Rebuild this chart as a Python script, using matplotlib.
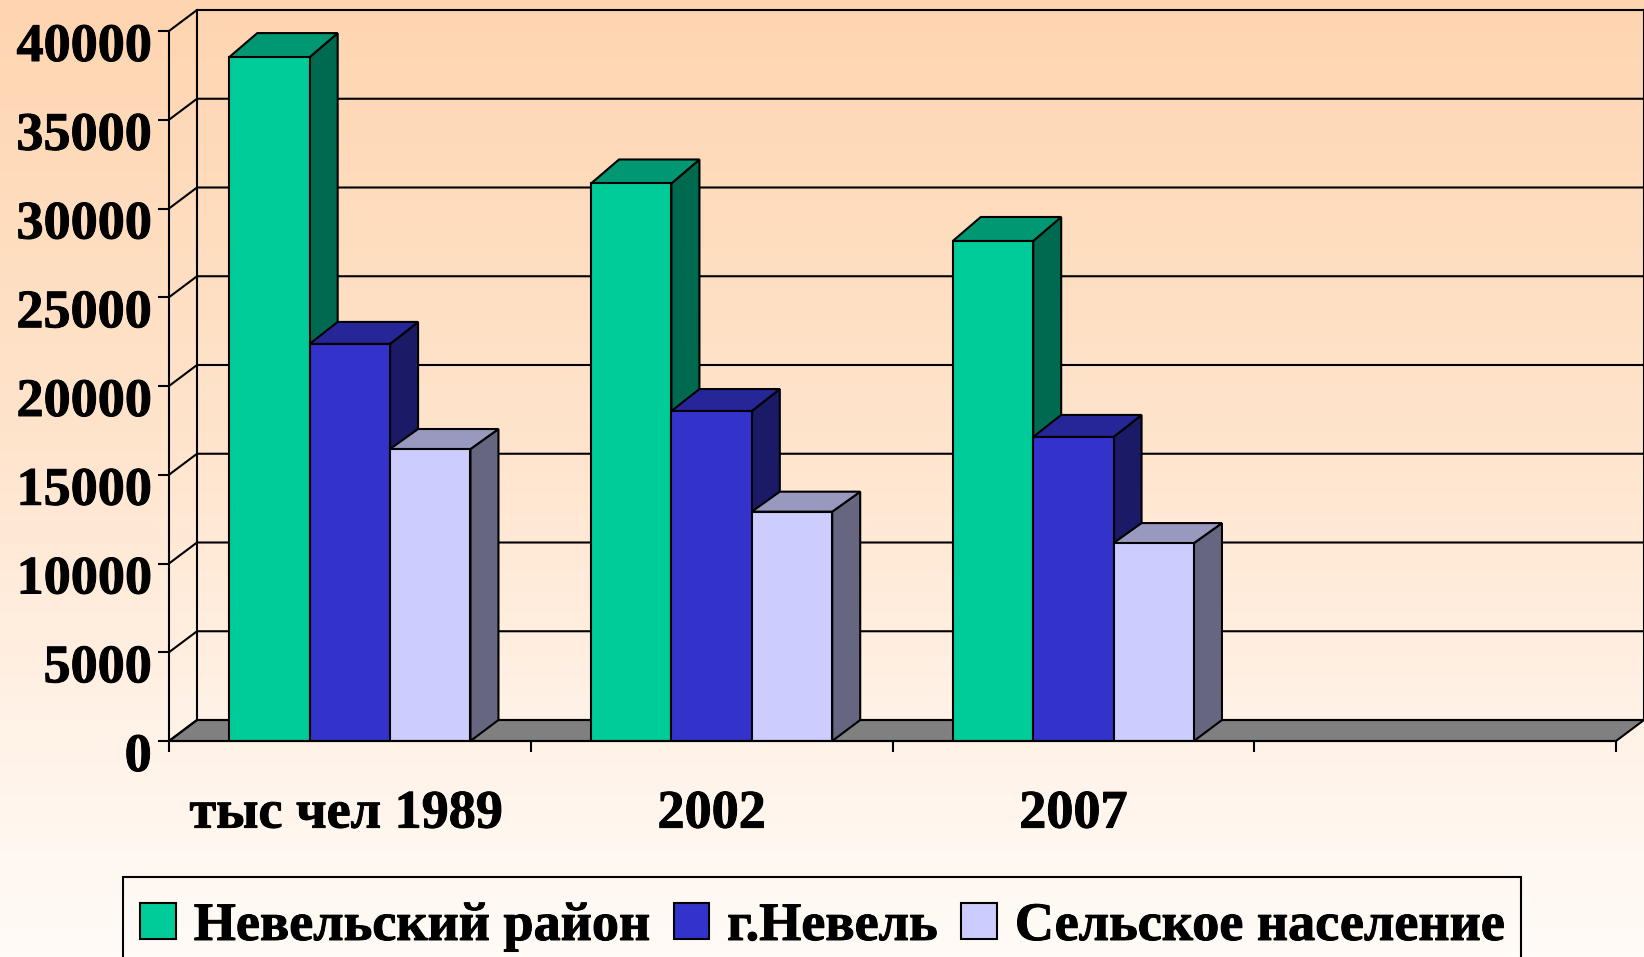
"""
Population of Nevel district, pseudo-3D clustered column chart.
Front faces are plain bars, side and top faces are polygons built from the same values.
"""

import numpy as np
import matplotlib
matplotlib.use("Agg")
import matplotlib.pyplot as plt
import matplotlib.patheffects as pe
from matplotlib.colors import LinearSegmentedColormap
from matplotlib.patches import Patch, Polygon, Rectangle
from matplotlib.transforms import ScaledTranslation

plt.rcParams["font.family"] = ["Liberation Serif", "DejaVu Serif"]
plt.rcParams["font.weight"] = "bold"

# ── Data ──────────────────────────────────────────────────────────
years = ["тыс чел 1989", "2002", "2007"]
series_names = ["Невельский район", "г.Невель", "Сельское население"]
district = [38530, 31410, 28170]
town = [22370, 18590, 17130]
rural = [16450, 12920, 11150]
y_ticks = [0, 5000, 10000, 15000, 20000, 25000, 30000, 35000, 40000]

# ── Style ─────────────────────────────────────────────────────────
W, H = 1644, 957
N_SLOTS = 4
AX_LEFT, AX_RIGHT, AX_TOP, AX_BOTTOM = 169, 1616, 31, 741
DEPTH_X = 28 / ((AX_RIGHT - AX_LEFT) / N_SLOTS)
DEPTH_Y = 21 / (AX_BOTTOM - AX_TOP) * 40000
BAR_DEPTH_Y = [24 / 710 * 40000, 22 / 710 * 40000, 20 / 710 * 40000]
BAR_W = 1 / 4.5
LW = 1.5
FONT = 39
STROKE = [pe.withStroke(linewidth=0.7, foreground="black")]
front_colors = ["#00CC99", "#3333CC", "#CCCCFF"]
top_colors = ["#009873", "#262699", "#9999BF"]
side_colors = ["#006A50", "#1A1A66", "#666680"]

fig = plt.figure(figsize=(W / 100, H / 100), dpi=100)

# ── Background gradient ───────────────────────────────────────────
bg = fig.add_axes([0, 0, 1, 1], zorder=0)
cmap = LinearSegmentedColormap.from_list(
    "bg", [(0, "#FED5B0"), (0.45, "#FFE4CC"), (0.75, "#FFF2E7"), (1, "#FFFBF7")])
bg.imshow(np.linspace(0, 1, 256).reshape(-1, 1), aspect="auto", cmap=cmap)
bg.axis("off")

# ── Axes on the front plane ───────────────────────────────────────
ax = fig.add_axes([AX_LEFT / W, 1 - AX_BOTTOM / H,
                   (AX_RIGHT - AX_LEFT) / W, (AX_BOTTOM - AX_TOP) / H], zorder=1)
ax.patch.set_alpha(0)
ax.set_xlim(0, N_SLOTS)
ax.set_ylim(0, 40000)
for s in ["top", "right"]:
    ax.spines[s].set_visible(False)
for s in ["left", "bottom"]:
    ax.spines[s].set_linewidth(LW)
    ax.spines[s].set_zorder(6)

# Floor and back wall
ax.add_patch(Polygon([(0, 0), (N_SLOTS, 0), (N_SLOTS + DEPTH_X, DEPTH_Y), (DEPTH_X, DEPTH_Y)],
                     closed=True, fc="#808080", ec="black", lw=LW, clip_on=False, zorder=1))
for v in y_ticks:
    ax.plot([0, DEPTH_X, N_SLOTS + DEPTH_X], [v, v + DEPTH_Y, v + DEPTH_Y],
            color="black", lw=LW, clip_on=False, zorder=1)
ax.plot([DEPTH_X, DEPTH_X], [DEPTH_Y, 40000 + DEPTH_Y], color="black", lw=LW, clip_on=False, zorder=1)
ax.plot([N_SLOTS + DEPTH_X] * 2, [DEPTH_Y, 40000 + DEPTH_Y], color="black", lw=LW, clip_on=False, zorder=1)

# Bars, left to right so later bars cover the side of earlier ones
all_series = [district, town, rural]
z = 2
for i in range(len(years)):
    for j, values in enumerate(all_series):
        x0 = i + (1 - 3 * BAR_W) / 2 + j * BAR_W
        x1 = x0 + BAR_W
        v = values[i]
        dy = BAR_DEPTH_Y[j]
        ax.add_patch(Polygon([(x1, 0), (x1 + DEPTH_X, DEPTH_Y), (x1 + DEPTH_X, v + dy), (x1, v)],
                             closed=True, fc=side_colors[j], ec="black", lw=LW, zorder=z))
        ax.add_patch(Polygon([(x0, v), (x1, v), (x1 + DEPTH_X, v + dy), (x0 + DEPTH_X, v + dy)],
                             closed=True, fc=top_colors[j], ec="black", lw=LW, zorder=z))
        ax.bar(x0, v, width=BAR_W, align="edge", color=front_colors[j],
               edgecolor="black", linewidth=LW, zorder=z)
        z += 0.01

# ── Ticks and labels ──────────────────────────────────────────────
ax.set_yticks(y_ticks)
ax.set_yticklabels([str(v) for v in y_ticks], fontsize=FONT, fontweight="bold")
ax.tick_params(axis="y", length=8, width=LW, pad=4.5)
for lab in ax.get_yticklabels():
    lab.set_transform(lab.get_transform() + ScaledTranslation(0, -11 / 100, fig.dpi_scale_trans))
    lab.set_path_effects(STROKE)

ax.set_xticks(range(N_SLOTS + 1))
ax.set_xticklabels([])
ax.tick_params(axis="x", which="major", length=8, width=LW)
ax.set_xticks(np.arange(len(years)) + 0.5, minor=True)
ax.set_xticklabels(years, minor=True, fontsize=FONT, fontweight="bold")
ax.tick_params(axis="x", which="minor", length=0, pad=35)
x_labels = ax.get_xticklabels(minor=True)
for lab in x_labels:
    lab.set_path_effects(STROKE)
x_labels[0].set_transform(x_labels[0].get_transform()
                          + ScaledTranslation(-4 / 100, 0, fig.dpi_scale_trans))

# ── Legend ────────────────────────────────────────────────────────
handles = [Patch(fc=c, ec="black", lw=LW) for c in front_colors]
leg = fig.legend(handles, series_names, ncol=3, loc="center",
                 bbox_to_anchor=(822 / W, 1 - 927 / H), fontsize=FONT, frameon=False,
                 handlelength=0.66, handleheight=0.66, handletextpad=0.33,
                 columnspacing=0.445, borderpad=0.55, borderaxespad=0)
leg.set_zorder(5)
for t in leg.get_texts():
    t.set_path_effects(STROKE)

# The box runs off the bottom of the picture, so it is drawn apart from the legend
fig.add_artist(Rectangle((123 / W, -20 / H), (1521 - 123) / W, (957 - 877 + 20) / H,
                         transform=fig.transFigure, fc="none", ec="black", lw=LW, zorder=5))

fig.savefig("out.png", dpi=100)
